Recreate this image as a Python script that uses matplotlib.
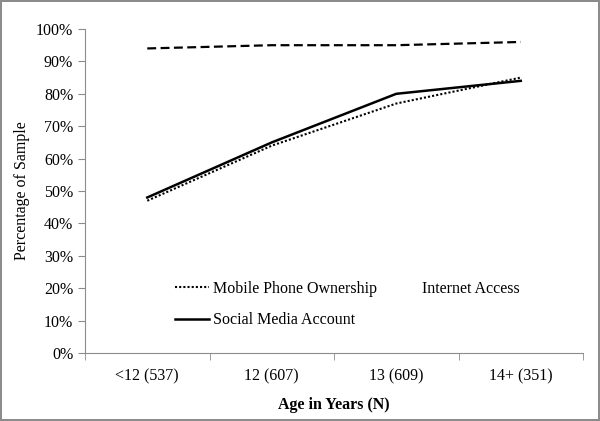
import matplotlib.pyplot as plt
from matplotlib.ticker import FixedLocator, PercentFormatter

plt.rcParams['font.family'] = ['Liberation Serif', 'DejaVu Serif']

age_groups = ['<12 (537)', '12 (607)', '13 (609)', '14+ (351)']
mobile_phone = [47, 64, 77, 85]
internet_access = [94, 95, 95, 96]
social_media = [48, 65, 80, 84]

fig = plt.figure(figsize=(6, 4.21), dpi=100)
fig.patch.set_edgecolor('#8c8c8c')
fig.patch.set_linewidth(1.5)
ax = fig.add_axes([0.1417, 0.1615, 0.83, 0.7696])

x = range(len(age_groups))
h_mob, = ax.plot(x, mobile_phone, color='black', lw=1.5, linestyle=(0, (1, 1)),
                 label='Mobile Phone Ownership')
h_int, = ax.plot(x, internet_access, color='black', lw=1.6, linestyle=(0, (4, 2)),
                 label='Internet Access')
h_soc, = ax.plot(x, social_media, color='black', lw=1.8, label='Social Media Account')

ax.set_xlim(-0.5, len(age_groups) - 0.5)
ax.set_ylim(0, 100)
ax.set_yticks(range(0, 101, 10))
ax.yaxis.set_major_formatter(PercentFormatter(decimals=0))
ax.set_xticks(list(x))
ax.set_xticklabels(age_groups)
ax.xaxis.set_minor_locator(FixedLocator([-0.5, 0.5, 1.5, 2.5, 3.5]))
ax.tick_params(axis='x', which='major', length=0, pad=11, labelsize=11.5)
ax.tick_params(axis='x', which='minor', length=5, color='#8c8c8c')
ax.tick_params(axis='y', length=5, color='#8c8c8c', labelsize=11.5)

for side in ['top', 'right']:
    ax.spines[side].set_visible(False)
for side in ['left', 'bottom']:
    ax.spines[side].set_color('#8c8c8c')

ax.set_xlabel('Age in Years (N)', fontsize=11.5, fontweight='bold', labelpad=9)
ax.set_ylabel('Percentage of Sample', fontsize=11.5)

# Internet Access sits in the legend with no visible line sample
leg = ax.legend([h_mob, h_soc, h_int],
                ['Mobile Phone Ownership', 'Social Media Account', 'Internet Access'],
                ncol=2, frameon=False, fontsize=11.5, loc='upper left',
                bbox_to_anchor=(0.181, 0.222), borderaxespad=0, borderpad=0,
                handlelength=2.1, handletextpad=0.3,
                columnspacing=0.4, labelspacing=0.95)
leg.legend_handles[2].set_visible(False)

fig.savefig('out.png', dpi=100)
